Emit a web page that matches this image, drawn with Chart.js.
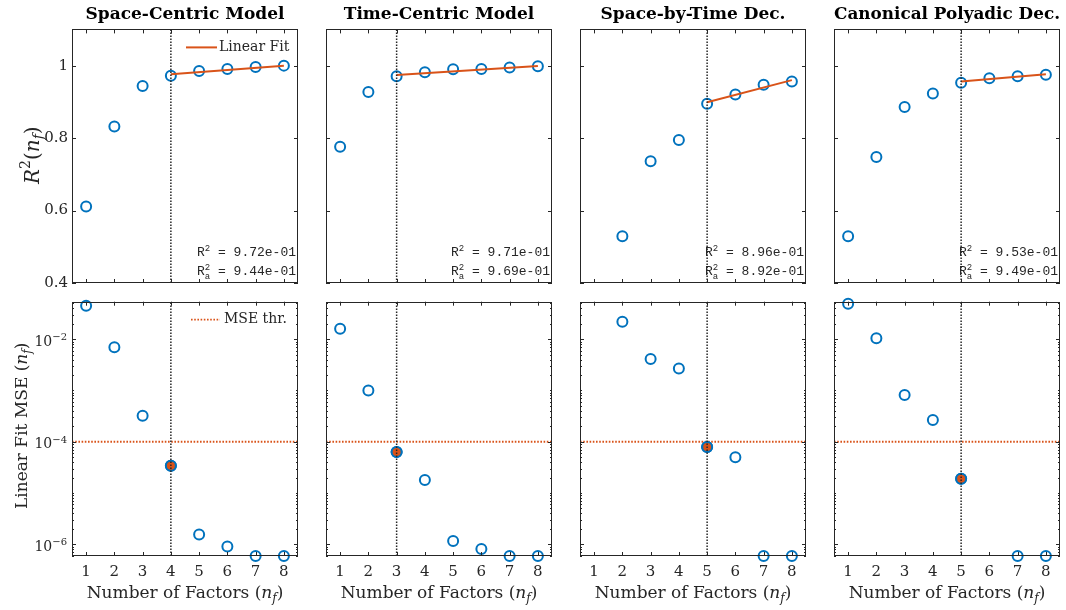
<!DOCTYPE html>
<html>
<head>
<meta charset="utf-8">
<script src="https://cdn.jsdelivr.net/npm/chart.js@4.4.1/dist/chart.umd.min.js"></script>
<style>
  html, body { margin: 0; padding: 0; background: #fff; }
  #wrap { position: relative; width: 1066px; height: 610px; overflow: hidden; }
  #wrap canvas { position: absolute; }
</style>
</head>
<body>
<div id="wrap"></div>
<script>
"use strict";

// ---- data ----
const factors = [1, 2, 3, 4, 5, 6, 7, 8];
const modelTitles = ['Space-Centric Model', 'Time-Centric Model', 'Space-by-Time Dec.', 'Canonical Polyadic Dec.'];

const r2Space = [0.611, 0.832, 0.944, 0.972, 0.985, 0.991, 0.996, 1.000];
const r2Time  = [0.776, 0.927, 0.971, 0.982, 0.990, 0.991, 0.995, 0.998];
const r2SbT   = [null,  0.529, 0.736, 0.795, 0.895, 0.920, 0.947, 0.956];
const r2Cpd   = [0.529, 0.748, 0.886, 0.923, 0.953, 0.965, 0.971, 0.975];

const mseSpace = [4.5e-2, 7.0e-3, 3.2e-4, 3.4e-5, 1.55e-6, 9.0e-7, 5.9e-7, 5.9e-7];
const mseTime  = [1.6e-2, 1.0e-3, 6.3e-5, 1.8e-5, 1.16e-6, 8.1e-7, 5.9e-7, 5.9e-7];
const mseSbT   = [null,   2.2e-2, 4.1e-3, 2.7e-3, 7.9e-5,  5.0e-5, 5.9e-7, 5.9e-7];
const mseCpd   = [4.9e-2, 1.05e-2, 8.2e-4, 2.66e-4, 1.9e-5, null,  5.9e-7, 5.9e-7];

const chosenN  = [4, 3, 5, 5];
const fitStart = [0.976, 0.974, 0.899, 0.956];   // linear fit value at chosen n
const fitEnd   = [1.000, 0.999, 0.960, 0.976];   // linear fit value at n = 8
const r2Text   = ['9.72e-01', '9.71e-01', '8.96e-01', '9.53e-01'];
const r2aText  = ['9.44e-01', '9.69e-01', '8.92e-01', '9.49e-01'];

const mseThreshold = 1e-4;
const r2Ticks  = [0.4, 0.6, 0.8, 1];
const r2TickLabels = ['0.4', '0.6', '0.8', '1'];
const mseTicks = [1e-2, 1e-4, 1e-6];
const mseTickExp = ['\u22122', '\u22124', '\u22126'];
const r2Range  = [0.4, 1.1];
const mseRange = [5.9e-7, 5.4e-2];
const xRange   = [0.5, 8.5];

const r2Series  = [r2Space, r2Time, r2SbT, r2Cpd];
const mseSeries = [mseSpace, mseTime, mseSbT, mseCpd];

// ---- style ----
const BLUE = '#0072BD';
const ORANGE = '#D95319';
const AXIS = '#262626';
const SERIF = '"DejaVu Serif", serif';
const MONO = '"Liberation Mono", "Courier New", monospace';

const plotLefts = [72, 326, 580, 834];
const PLOT_W = 226;
const SIDE = 72;   // room for the y axis, mirrored on the right so the title centres on the plot

function toPoints(vals) {
  return factors.map((f, i) => ({ x: f, y: vals[i] })).filter(p => p.y !== null);
}

// draws text made of pieces: '' normal, 'i' italic, 'sup', 'sub' (italic)
function richText(ctx, parts, x, y, size, rot) {
  const fontFor = s => {
    const small = s === 'sup' || s === 'sub';
    const it = s === 'i' || s === 'sub';
    return (it ? 'italic ' : '') + (small ? Math.round(size * 0.7) : size) + 'px ' + SERIF;
  };
  ctx.save();
  ctx.translate(x, y);
  ctx.rotate(rot || 0);
  ctx.textAlign = 'left';
  ctx.textBaseline = 'alphabetic';
  let w = 0;
  parts.forEach(([t, s]) => { ctx.font = fontFor(s); w += ctx.measureText(t).width; });
  let cx = -w / 2;
  parts.forEach(([t, s]) => {
    ctx.font = fontFor(s);
    const dy = s === 'sup' ? -size * 0.42 : s === 'sub' ? size * 0.22 : 0;
    ctx.fillText(t, cx, dy);
    cx += ctx.measureText(t).width;
  });
  ctx.restore();
}

function drawStat(ctx, sub, value, xr, yb) {
  const big = '13px ' + MONO, small = '9px ' + MONO;
  ctx.textAlign = 'left';
  ctx.textBaseline = 'alphabetic';
  ctx.font = big;
  const wR = ctx.measureText('R').width;
  const wV = ctx.measureText(' = ' + value).width;
  ctx.font = small;
  const wS = ctx.measureText('2').width;
  const x0 = xr - (wR + wS + wV);
  ctx.font = big;
  ctx.fillText('R', x0, yb);
  ctx.font = small;
  ctx.fillText('2', x0 + wR, yb - 5);
  if (sub) ctx.fillText(sub, x0 + wR, yb + 4);
  ctx.font = big;
  ctx.fillText(' = ' + value, x0 + wR + wS, yb);
}

const matlabAxes = {
  id: 'matlab',
  afterDatasetsDraw(chart, args, o) {
    const { ctx, chartArea: a, scales: { x, y } } = chart;
    ctx.save();
    ctx.strokeStyle = AXIS;
    ctx.lineWidth = 1;
    const seg = (x1, y1, x2, y2) => { ctx.beginPath(); ctx.moveTo(x1, y1); ctx.lineTo(x2, y2); ctx.stroke(); };
    factors.forEach(f => {
      const px = Math.round(x.getPixelForValue(f)) + 0.5;
      seg(px, a.bottom, px, a.bottom - 4);
      seg(px, a.top, px, a.top + 4);
    });
    if (o.log) {
      for (let d = -7; d <= -1; d++) {
        for (let k = 1; k <= 9; k++) {
          const v = k * Math.pow(10, d);
          if (v < y.min || v > y.max) continue;
          const py = Math.round(y.getPixelForValue(v)) + 0.5;
          const len = (k === 1 && d % 2 === 0) ? 4 : 2;
          seg(a.left, py, a.left + len, py);
          seg(a.right, py, a.right - len, py);
        }
      }
    } else {
      r2Ticks.forEach(v => {
        const py = Math.round(y.getPixelForValue(v)) + 0.5;
        seg(a.left, py, a.left + 4, py);
        seg(a.right, py, a.right - 4, py);
      });
    }
    ctx.strokeRect(Math.round(a.left) + 0.5, Math.round(a.top) + 0.5,
                   Math.round(a.width) - 1, Math.round(a.height) - 1);
    ctx.restore();
  },
  afterDraw(chart, args, o) {
    const { ctx, chartArea: a, scales: { y } } = chart;
    ctx.save();
    ctx.fillStyle = AXIS;
    const midY = (a.top + a.bottom) / 2;
    if (o.row === 'top') {
      drawStat(ctx, '', r2Text[o.col], a.right - 2, a.bottom - 27);
      drawStat(ctx, 'a', r2aText[o.col], a.right - 2, a.bottom - 8);
      if (o.col === 0) {
        ctx.font = '15px ' + SERIF;
        ctx.textAlign = 'right';
        ctx.textBaseline = 'middle';
        r2Ticks.forEach((v, i) => ctx.fillText(r2TickLabels[i], a.left - 4, y.getPixelForValue(v)));

        ctx.strokeStyle = ORANGE;
        ctx.lineWidth = 2;
        ctx.beginPath();
        ctx.moveTo(a.right - 112, a.top + 18);
        ctx.lineTo(a.right - 81, a.top + 18);
        ctx.stroke();
        ctx.font = '14px ' + SERIF;
        ctx.textAlign = 'left';
        ctx.fillText('Linear Fit', a.right - 79, a.top + 18);
        richText(ctx, [['R', 'i'], ['2', 'sup'], ['(', ''], ['n', 'i'], ['f', 'sub'], [')', '']],
                 38.5, midY - 1, 20, -Math.PI / 2);
      }
    } else {
      if (o.col === 0) {
        ctx.textBaseline = 'alphabetic';
        ctx.textAlign = 'left';
        mseTicks.forEach((v, i) => {
          const py = y.getPixelForValue(v);
          const sup = mseTickExp[i];
          ctx.font = '10px ' + SERIF;
          const ws = ctx.measureText(sup).width;
          ctx.font = '14px ' + SERIF;
          const wb = ctx.measureText('10').width;
          const x0 = a.left - 5 - ws - wb;
          ctx.fillText('10', x0, py + 6.5);
          ctx.font = '10px ' + SERIF;
          ctx.fillText(sup, x0 + wb, py + 1);
        });
        ctx.strokeStyle = ORANGE;
        ctx.lineWidth = 1.8;
        ctx.setLineDash([1.6, 1.6]);
        ctx.beginPath();
        ctx.moveTo(a.right - 107, a.top + 18);
        ctx.lineTo(a.right - 78, a.top + 18);
        ctx.stroke();
        ctx.setLineDash([]);
        ctx.font = '14px ' + SERIF;
        ctx.textBaseline = 'middle';
        ctx.fillText('MSE thr.', a.right - 74, a.top + 18);
        richText(ctx, [['Linear Fit MSE (', ''], ['n', 'i'], ['f', 'sub'], [')', '']],
                 27, midY - 3, 17, -Math.PI / 2);
      }
      richText(ctx, [['Number of Factors (', ''], ['n', 'i'], ['f', 'sub'], [')', '']],
               (a.left + a.right) / 2, a.bottom + 42, 17, 0);
    }
    ctx.restore();
  }
};
Chart.register(matlabAxes);

const wrap = document.getElementById('wrap');

function fixedFit(size, key) {
  return scale => {
    scale[key] = size;
    scale.paddingTop = 0; scale.paddingBottom = 0;
    scale.paddingLeft = 0; scale.paddingRight = 0;
  };
}

function makePanel(row, col) {
  const canvas = document.createElement('canvas');
  const top = row === 'top' ? 0 : 290;
  const height = row === 'top' ? 290 : 320;
  const width = SIDE + PLOT_W + SIDE;
  canvas.width = width;
  canvas.height = height;
  canvas.style.left = (plotLefts[col] - SIDE) + 'px';
  canvas.style.top = top + 'px';
  wrap.appendChild(canvas);

  const n = chosenN[col];
  const isTop = row === 'top';
  const vals = isTop ? r2Series[col] : mseSeries[col];
  const yr = isTop ? r2Range : mseRange;

  const datasets = [
    {
      type: 'line', showLine: false, data: toPoints(vals),
      pointRadius: 5, pointBorderWidth: 2, pointBorderColor: BLUE,
      pointBackgroundColor: 'rgba(0,0,0,0)', clip: false, order: 3
    },
    {
      type: 'line', data: [{ x: n, y: yr[0] }, { x: n, y: yr[1] }],
      borderColor: AXIS, borderWidth: 1.5, borderDash: [1.5, 1.5], pointRadius: 0, order: 1
    }
  ];
  if (isTop) {
    datasets.push({
      type: 'line', data: [{ x: n, y: fitStart[col] }, { x: 8, y: fitEnd[col] }],
      borderColor: ORANGE, borderWidth: 2, pointRadius: 0, order: 2
    });
  } else {
    datasets.push({
      type: 'line', showLine: false, data: [{ x: n, y: vals[n - 1] }],
      pointRadius: 5, pointBorderWidth: 2, pointBorderColor: BLUE,
      pointBackgroundColor: ORANGE, clip: false, order: 2
    });
    datasets.push({
      type: 'line', data: [{ x: xRange[0], y: mseThreshold }, { x: xRange[1], y: mseThreshold }],
      borderColor: ORANGE, borderWidth: 1.8, borderDash: [1.6, 1.6], pointRadius: 0, order: 4
    });
  }

  return new Chart(canvas, {
    type: 'line',
    data: { datasets },
    options: {
      responsive: false,
      animation: false,
      events: [],
      layout: { padding: { top: isTop ? 0 : 11.7, right: SIDE, left: SIDE, bottom: 0 } },
      plugins: {
        legend: { display: false },
        tooltip: { enabled: false },
        title: {
          display: isTop,
          text: modelTitles[col],
          color: '#000',
          font: { family: SERIF, size: 17, weight: 'bold' },
          padding: { top: 4, bottom: 5 }
        },
        matlab: { row, col, log: !isTop }
      },
      scales: {
        x: {
          type: 'linear', min: xRange[0], max: xRange[1],
          grid: { display: false, drawTicks: false },
          border: { display: false },
          afterBuildTicks: s => { s.ticks = factors.map(v => ({ value: v })); },
          afterFit: fixedFit(isTop ? 6 : 54, 'height'),
          ticks: {
            display: !isTop, padding: 7, color: AXIS,
            font: { family: SERIF, size: 15 },
            callback: v => String(v)
          }
        },
        y: {
          type: isTop ? 'linear' : 'logarithmic',
          min: yr[0], max: yr[1], bounds: 'data',
          grid: { display: false, drawTicks: false },
          border: { display: false },
          afterBuildTicks: s => { s.ticks = (isTop ? r2Ticks : mseTicks).map(v => ({ value: v })); },
          afterFit: fixedFit(0, 'width'),
          ticks: { display: false }
        }
      }
    }
  });
}

for (let c = 0; c < 4; c++) {
  makePanel('top', c);
  makePanel('bottom', c);
}
</script>
</body>
</html>
